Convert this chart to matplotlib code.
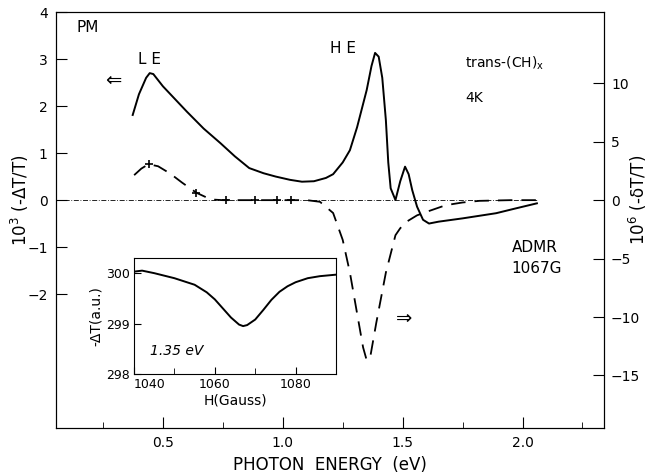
import numpy as np
import matplotlib
matplotlib.use("Agg")
import matplotlib.pyplot as plt

# photomodulation (solid, left axis, 10^3 -dT/T)
pm_e = [0.374, 0.40, 0.43, 0.445, 0.46, 0.50, 0.55, 0.60, 0.67, 0.74, 0.80, 0.86,
        0.92, 0.97, 1.03, 1.08, 1.13, 1.18, 1.21, 1.25, 1.28, 1.31, 1.35, 1.37,
        1.385, 1.40, 1.415, 1.43, 1.44, 1.45, 1.47, 1.49, 1.51, 1.525, 1.54,
        1.56, 1.585, 1.61, 1.65, 1.75, 1.89, 1.97, 2.06]
pm_val = [1.81, 2.25, 2.60, 2.70, 2.68, 2.42, 2.15, 1.88, 1.52, 1.21, 0.93, 0.68,
          0.57, 0.50, 0.43, 0.39, 0.40, 0.47, 0.55, 0.80, 1.06, 1.55, 2.34, 2.85,
          3.13, 3.05, 2.60, 1.70, 0.80, 0.25, 0.00, 0.40, 0.71, 0.55, 0.21,
          -0.14, -0.42, -0.50, -0.46, -0.39, -0.28, -0.18, -0.07]

# ADMR (dashed, right axis, 10^6 -dT/T)
admr_e = [0.38, 0.41, 0.44, 0.48, 0.53, 0.58, 0.64, 0.70, 0.75, 0.90, 1.05, 1.10,
          1.155, 1.21, 1.25, 1.28, 1.31, 1.335, 1.35, 1.365, 1.39, 1.43, 1.47,
          1.49, 1.52, 1.56, 1.60, 1.68, 1.75, 1.82, 1.95, 2.06]
admr_val = [2.14, 2.7, 3.08, 2.9, 2.28, 1.5, 0.63, 0.06, 0.0, 0.0, 0.0, 0.0,
            -0.14, -1.1, -3.4, -6.2, -9.7, -12.6, -13.7, -13.4, -10.5, -6.2, -3.0,
            -2.4, -1.8, -1.3, -1.0, -0.43, -0.2, -0.06, 0.0, 0.0]
mark_e = [0.44, 0.64, 0.765, 0.883, 0.974, 1.036]
mark_val = [3.08, 0.63, 0.0, 0.0, 0.0, 0.0]

# inset: field sweep at 1.35 eV
field = [1040, 1042, 1045, 1050, 1055, 1058, 1060, 1062, 1064, 1066, 1067, 1068,
         1070, 1072, 1074, 1076, 1078, 1080, 1083, 1086, 1090]
dt = [300.03, 300.05, 300.0, 299.9, 299.77, 299.62, 299.48, 299.3, 299.12, 298.98,
      298.95, 298.97, 299.08, 299.27, 299.47, 299.63, 299.74, 299.82, 299.9,
      299.94, 299.97]

fig = plt.figure(figsize=(6.54, 4.73), dpi=100)
ax = fig.add_axes([0.0856, 0.0951, 0.838, 0.8795])
ax2 = ax.twinx()

ax.plot(pm_e, pm_val, color="black", lw=1.4)
ax.hlines(0, 0.05, 2.06, colors="black", lw=0.6, linestyles=(0, (6, 2, 1, 2)))
ax2.plot(admr_e, admr_val, color="black", lw=1.3, dashes=(8, 5))
ax2.plot(mark_e, mark_val, "k+", ms=6, mew=1.2)

ax.set_xlim(0.054, 2.34)
ax.set_ylim(-4.85, 4.0)
ax2.set_ylim(-19.5, 16.1)

ax.set_xticks([0.5, 1.0, 1.5, 2.0])
ax.set_xticklabels(["0.5", "1.0", "1.5", "2.0"])
ax.set_xticks([0.25, 0.75, 1.25, 1.75, 2.25], minor=True)
ax.set_yticks([4, 3, 2, 1, 0, -1, -2])
ax2.set_yticks([10, 5, 0, -5, -10, -15])
ax.tick_params(axis="both", which="major", direction="in", length=8, labelsize=10, pad=6)
ax.tick_params(axis="x", which="minor", direction="in", length=4)
ax2.tick_params(axis="y", direction="in", length=8, labelsize=10, pad=5)

ax.set_xlabel("PHOTON  ENERGY  (eV)", fontsize=12, labelpad=4)
fig.text(20 / 654, 1 - 200 / 473, "10$^3$ (-ΔT/T)", fontsize=12, rotation=90,
         ha="center", va="center")
fig.text(638 / 654, 1 - 200 / 473, "10$^6$ (-δT/T)", fontsize=12, rotation=90,
         ha="center", va="center")

ax.text(0.14, 3.66, "PM", fontsize=11, va="center")
ax.text(0.395, 2.98, "L E", fontsize=11, va="center")
ax.text(1.195, 3.23, "H E", fontsize=11, va="center")
ax.text(0.26, 2.55, "⇐", fontsize=14, va="center")
ax.text(1.47, -2.51, "⇒", fontsize=14, va="center")
ax.text(1.76, 2.91, "trans-(CH)$_\\mathregular{x}$", fontsize=10, va="center")
ax.text(1.76, 2.17, "4K", fontsize=10, va="center")
ax.text(1.955, -1.0, "ADMR", fontsize=11, va="center")
ax.text(1.955, -1.45, "1067G", fontsize=11, va="center")

ins = fig.add_axes([0.2049, 0.2093, 0.3089, 0.2452])
ins.plot(field, dt, color="black", lw=1.4)
ins.set_xlim(1040, 1090)
ins.set_ylim(298, 300.3)
ins.set_xticks([1040, 1060, 1080])
ins.set_xticks([1050, 1070, 1090], minor=True)
ins.set_yticks([298, 299, 300])
ins.tick_params(axis="both", which="major", direction="in", length=5, labelsize=9, pad=3)
ins.tick_params(axis="x", which="minor", direction="in", length=4)
ins.get_xticklabels()[0].set_horizontalalignment("left")
ins.set_xlabel("H(Gauss)", fontsize=10, labelpad=2)
ins.set_ylabel("-ΔT(a.u.)", fontsize=10, labelpad=2)
ins.text(1044, 298.45, "1.35 eV", fontsize=10, style="italic", va="center")

fig.savefig("out.png", dpi=100)
